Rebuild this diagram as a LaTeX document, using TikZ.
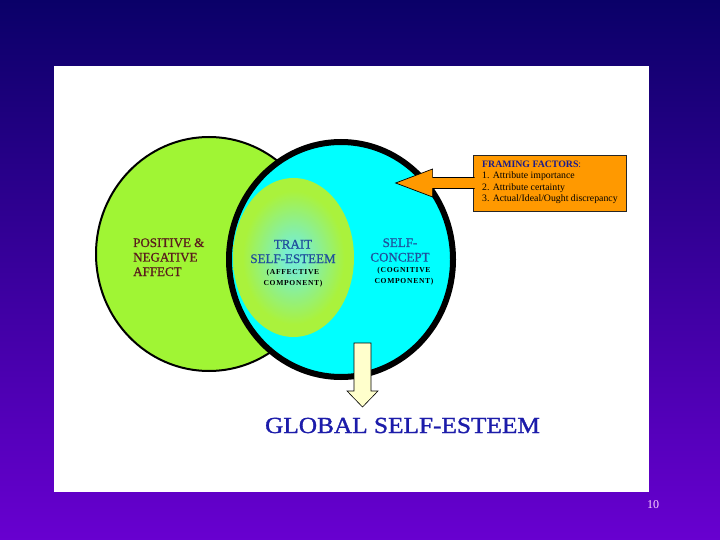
\documentclass[tikz,border=0pt]{standalone}
\usepackage{fontspec}
\setmainfont{Liberation Serif}
\usetikzlibrary{calc}
\definecolor{bgtop}{RGB}{10,0,104}
\definecolor{bgbot}{RGB}{104,0,208}
\definecolor{limeg}{RGB}{160,245,52}
\definecolor{cyanf}{RGB}{0,255,255}
\definecolor{glowc}{RGB}{120,238,205}
\definecolor{glowo}{RGB}{170,242,60}
\definecolor{orangef}{RGB}{255,153,0}
\definecolor{paley}{RGB}{255,255,204}
\definecolor{brownt}{RGB}{90,28,28}
\definecolor{bluet}{RGB}{32,80,156}
\definecolor{navyt}{RGB}{26,26,140}
\definecolor{globalb}{RGB}{28,28,170}
\definecolor{pnum}{RGB}{255,216,255}
\pgfdeclareradialshading{glow}{\pgfpoint{0bp}{0bp}}{color(0bp)=(glowc); color(4bp)=(glowc); color(21bp)=(glowo); color(25bp)=(glowo); color(50bp)=(glowo)}
\newcommand{\lines}[2]{\begin{tabular}[t]{@{}#1@{}}#2\end{tabular}}
\tikzset{
  lbl/.style={inner sep=0pt, anchor=base},
  bigfont/.style={font=\fontsize{13}{14.5}\selectfont\addfontfeature{FakeBold=0.8}},
  smallfont/.style={font=\fontsize{7.6}{11}\selectfont\bfseries\addfontfeature{LetterSpace=9}},
  blockarrow/.style={draw=black, line width=0.7pt, line join=miter}
}
\begin{document}
\begin{tikzpicture}[x=1pt,y=-1pt]
\shade[top color=bgtop,bottom color=bgbot] (0,0) rectangle (720,540);
\useasboundingbox (0,0) rectangle (720,540);
\fill[white] (54,66) rectangle (649,492);
% affect ellipse
\draw[fill=limeg, line width=2pt] (209,254) ellipse [x radius=113, y radius=117];
% self-concept circle
\draw[fill=cyanf, line width=6pt] (341,259.5) ellipse [x radius=112, y radius=117.5];
% trait self-esteem
\shade[shading=glow] (293.5,257.5) ellipse [x radius=60.5, y radius=79.5];
% framing factors box
\node[draw=black!85, line width=0.8pt, fill=orangef, minimum width=153pt, minimum height=56pt, inner sep=0pt] (frame) at (549.5,183) {};
\filldraw[blockarrow, fill=orangef]
  ($(frame.west)+(2,-5.5)$) -- ($(frame.west)+(-40,-5.5)$) -- ($(frame.west)+(-40,-14)$)
  -- ($(frame.west)+(-77,0)$) -- ($(frame.west)+(-40,14)$) -- ($(frame.west)+(-40,5.5)$)
  -- ($(frame.west)+(2,5.5)$);
\node[lbl, anchor=base west, font=\fontsize{9.8}{11.4}\selectfont] (ftext) at (482,167.5)
  {\lines{l}{\textcolor{navyt}{\textbf{FRAMING FACTORS}:}\\1. Attribute importance\\2. Attribute certainty\\3. Actual/Ideal/Ought discrepancy}};
% labels
\node[lbl, anchor=base west, bigfont, text=brownt] (affect) at (133,247)
  {\lines{l}{POSITIVE \&\\NEGATIVE\\AFFECT}};
\node[lbl, bigfont, text=bluet] (trait) at (293,248.5) {\lines{c}{TRAIT\\SELF-ESTEEM}};
\node[lbl, smallfont, text=black] (affcomp) at (293,274.5) {\lines{c}{(AFFECTIVE\\COMPONENT)}};
\node[lbl, bigfont, text=bluet] (concept) at (400,247) {\lines{c}{SELF-\\CONCEPT}};
\node[lbl, smallfont, text=black] (cogcomp) at (404,272.5) {\lines{c}{(COGNITIVE\\COMPONENT)}};
% global
\node[lbl, font=\fontsize{23}{23}\selectfont\addfontfeature{FakeBold=1.2}, text=globalb] (global) at (402.5,433) {\scalebox{1.1}[1]{GLOBAL SELF-ESTEEM}};
\coordinate (dtop) at (362.5,343);
\filldraw[blockarrow, fill=paley, line width=0.6pt]
  ($(dtop)+(-8.5,0)$) -- ($(dtop)+(8.5,0)$) -- ($(dtop)+(8.5,48)$) -- ($(dtop)+(15.5,48)$)
  -- ($(dtop)+(0,64)$) -- ($(dtop)+(-15.5,48)$) -- ($(dtop)+(-8.5,48)$) -- cycle;
\node[lbl, font=\fontsize{12}{12}\selectfont, text=pnum] (pagenum) at (653,508) {10};
\end{tikzpicture}
\end{document}
